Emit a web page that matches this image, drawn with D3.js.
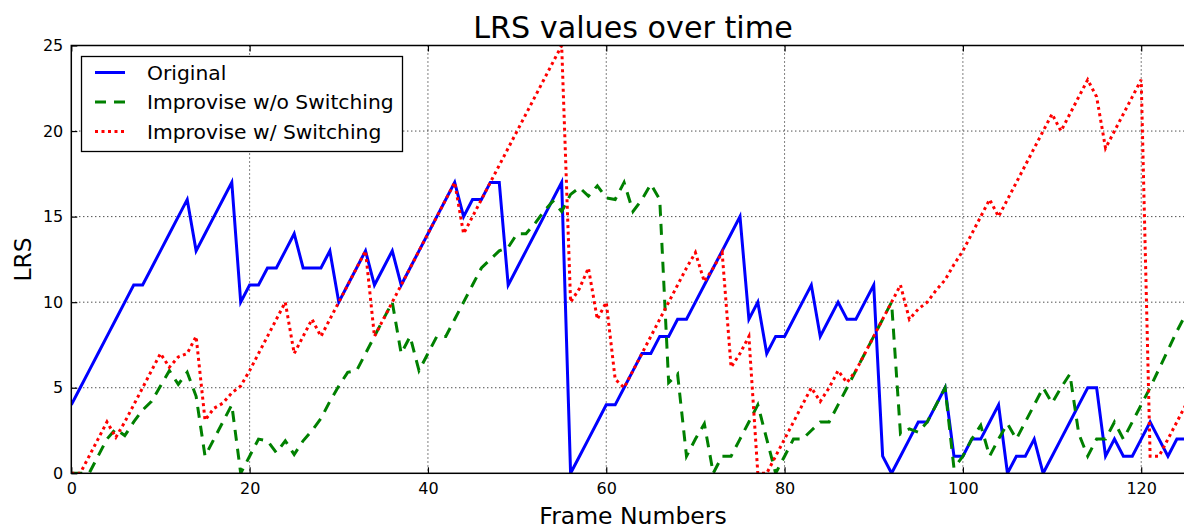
<!DOCTYPE html>
<html>
<head>
<meta charset="utf-8">
<script src="https://d3js.org/d3.v7.min.js"></script>
<style>
  body { margin: 0; overflow: hidden; background: #fff; }
  text { font-family: "DejaVu Sans", sans-serif; }
</style>
</head>
<body>
<script>
// values, one per frame (0..125)
var original = [
  4,5,6,7,8,9,10,11,11,12,
  13,14,15,16,13,14,15,16,17,10,
  11,11,12,12,13,14,12,12,12,13,
  10,11,12,13,11,12,13,11,12,13,
  14,15,16,17,15,16,16,17,17,11,
  12,13,14,15,16,17,0,1,2,3,
  4,4,5,6,7,7,8,8,9,9,
  10,11,12,13,14,15,9,10,7,8,
  8,9,10,11,8,9,10,9,9,10,
  11,1,0,1,2,3,3,4,5,1,
  1,2,2,3,4,0,1,1,2,0,
  1,2,3,4,5,5,1,2,1,1,
  2,3,2,1,2,2
];

var noSwitch = [
  0,0,0,1,2,2.6,2.2,3,3.7,4.2,
  5.1,6,5.2,5.9,4.5,1,2,3,4,0,
  1,2,1.9,1.2,1.9,1.1,1.9,2.5,3.2,4.2,
  5.1,5.9,6,7,8,9,10,7,8,6,
  7,8,8,9,10,11,12,12.5,13,13.2,
  14,14,14.6,15.3,15.9,15.3,16.3,16.7,16.2,16.8,
  16.1,16,17,15.3,16,16.9,16,5.3,5.8,1,
  2,2.9,0,1,1,2,3,4,2,0,
  1,2,2,2.5,3,3,4,5,6,7,
  8,9,10,2.3,2.6,2.4,3,4,5,0.3,
  1,2,2.8,1,2,2.9,2,3,4,5,
  4.1,5,5.8,2.3,1,2,2,3,2,3,
  4,5,6.1,7.2,8.3,9.3
];

var withSwitch = [
  0,0,1,2,3,2.1,3,4,5,6,
  7,6.2,6.8,7,8,3.1,3.8,4.1,4.7,5.1,
  6,7,8,9,10,7,8,9,8,9,
  10,11,12,13,8,9,10,11,12,13,
  14,15,16,17,14,15,16,17,18,19,
  20,21,22,23,24,25,10,10.8,12,9,
  10,5.5,5,6,7,8,9,10,11,12,
  12.9,11.2,12,12.9,6.2,7,8,0,0,1,
  2,3,4,5,4.2,5,6,5.3,6,7,
  8,9,10,11,9,9.6,10,10.7,11.3,12.2,
  13,14,15,16,15,16,17,18,19,20,
  21,20,21,22,23,22,19,20,21,22,
  23,1,1,2,3,4
];

var seriesNames = ["Original", "Improvise w/o Switching", "Improvise w/ Switching"];
var xTicks = [0, 20, 40, 60, 80, 100, 120];
var yTicks = [0, 5, 10, 15, 20, 25];

drawChart();

function drawChart() {
  var w = 1184;
  var h = 525;

  var svg = d3.select("body")
    .append("svg")
    .attr("width", w)
    .attr("height", h);

  var pLeft = 71.3, pRight = 1194.7, pTop = 45.5, pBottom = 473.3;

  var x = d3.scaleLinear().domain([0, 126]).range([pLeft, pRight]);
  var y = d3.scaleLinear().domain([0, 25]).range([pBottom, pTop]);

  svg.append("clipPath")
    .attr("id", "plotclip")
    .append("rect")
    .attr("x", pLeft)
    .attr("y", pTop)
    .attr("width", pRight - pLeft)
    .attr("height", pBottom - pTop);

  // dotted grid
  var grid = svg.append("g");
  grid.selectAll("line.gx")
    .data(xTicks.filter(d => d > 0))
    .enter()
    .append("line")
    .attr("x1", d => x(d)).attr("x2", d => x(d))
    .attr("y1", pTop).attr("y2", pBottom)
    .attr("stroke", "#000").attr("stroke-width", 1)
    .attr("stroke-dasharray", "1,3");
  grid.selectAll("line.gy")
    .data(yTicks.filter(d => d > 0 && d < 25))
    .enter()
    .append("line")
    .attr("x1", pLeft).attr("x2", pRight)
    .attr("y1", d => y(d)).attr("y2", d => y(d))
    .attr("stroke", "#000").attr("stroke-width", 1)
    .attr("stroke-dasharray", "1,3");

  // series
  var styles = [
    {data: original, color: "#0000ff", dash: null},
    {data: noSwitch, color: "#008000", dash: "11,8"},
    {data: withSwitch, color: "#ff0000", dash: "3,3.5"}
  ];

  var line = d3.line()
    .x((d, i) => x(i))
    .y(d => y(d));

  var plot = svg.append("g").attr("clip-path", "url(#plotclip)");
  styles.forEach(function(s) {
    plot.append("path")
      .datum(s.data)
      .attr("d", line)
      .attr("fill", "none")
      .attr("stroke", s.color)
      .attr("stroke-width", 3)
      .attr("stroke-linejoin", "miter")
      .attr("stroke-dasharray", s.dash);
  });

  // axes, ticks inside like the old matplotlib style
  var xAxis = svg.append("g")
    .attr("transform", "translate(0," + pBottom + ")")
    .call(d3.axisBottom(x).tickValues(xTicks).tickSizeInner(-6).tickSizeOuter(0).tickPadding(9.5));
  var xAxisTop = svg.append("g")
    .attr("transform", "translate(0," + pTop + ")")
    .call(d3.axisTop(x).tickValues(xTicks).tickSizeInner(-6).tickSizeOuter(0).tickFormat(""));
  var yAxis = svg.append("g")
    .attr("transform", "translate(" + pLeft + ",0)")
    .call(d3.axisLeft(y).tickValues(yTicks).tickSizeInner(-6).tickSizeOuter(0).tickPadding(8));

  [xAxis, xAxisTop, yAxis].forEach(function(a) {
    a.select(".domain").remove();
    a.attr("font-family", "DejaVu Sans").attr("font-size", 16);
    a.selectAll(".tick line").attr("stroke", "#000").attr("stroke-width", 1.2);
    a.selectAll(".tick text").attr("fill", "#000");
  });

  // frame
  svg.append("rect")
    .attr("x", pLeft).attr("y", pTop)
    .attr("width", pRight - pLeft).attr("height", pBottom - pTop)
    .attr("fill", "none")
    .attr("stroke", "#000")
    .attr("stroke-width", 1.5);

  // labels
  svg.append("text")
    .attr("x", 633).attr("y", 38)
    .attr("text-anchor", "middle")
    .attr("font-size", 30.2)
    .text("LRS values over time");

  svg.append("text")
    .attr("x", 633).attr("y", 523.5)
    .attr("text-anchor", "middle")
    .attr("font-size", 23.5)
    .text("Frame Numbers");

  svg.append("text")
    .attr("transform", "translate(30.7," + ((pTop + pBottom) / 2) + ") rotate(-90)")
    .attr("text-anchor", "middle")
    .attr("font-size", 23.5)
    .text("LRS");

  // legend
  var legend = svg.append("g");
  legend.append("rect")
    .attr("x", 81.5).attr("y", 56.5)
    .attr("width", 321).attr("height", 95)
    .attr("fill", "#fff")
    .attr("stroke", "#000")
    .attr("stroke-width", 1.3);

  var rows = legend.selectAll("g.row")
    .data(styles)
    .enter()
    .append("g")
    .attr("transform", (d, i) => "translate(0," + (72.5 + i * 29.5) + ")");

  rows.append("line")
    .attr("x1", 95).attr("x2", 125)
    .attr("y1", 0).attr("y2", 0)
    .attr("stroke", d => d.color)
    .attr("stroke-width", 3)
    .attr("stroke-dasharray", d => d.dash);

  rows.append("text")
    .attr("x", 147).attr("y", 7.3)
    .attr("font-size", 20.3)
    .text((d, i) => seriesNames[i]);
}
</script>
</body>
</html>
